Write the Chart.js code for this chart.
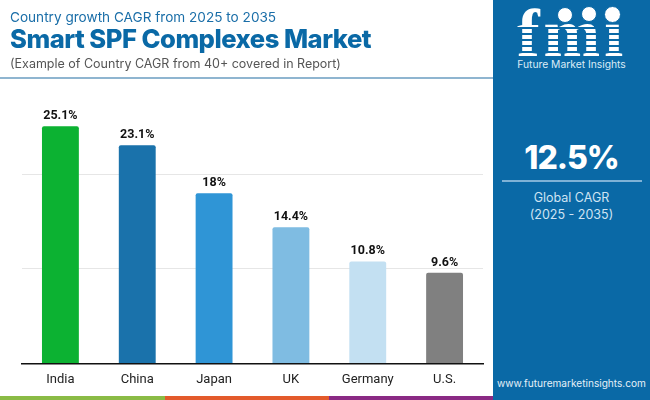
<!DOCTYPE html>
<html><head><meta charset="utf-8">
<script src="https://cdn.jsdelivr.net/npm/chart.js@4"></script>
<style>
html,body{margin:0;padding:0;background:#fff;overflow:hidden}
#w{position:relative;width:650px;height:400px;overflow:hidden;font-family:Inter,sans-serif}
#w div{position:absolute;white-space:nowrap}
canvas{position:absolute;left:0;top:0}
.c{text-align:center}
</style></head><body><div id="w">
<canvas id="c" width="650" height="400"></canvas>
<div style="left:10px;top:9px;font-size:13.6px;color:#1a6ea8">Country growth CAGR from 2025 to 2035</div>
<div style="left:10px;top:23px;font-size:25.6px;font-weight:800;color:#0a69a6;letter-spacing:-.5px">Smart SPF Complexes Market</div>
<div style="left:10px;top:56px;font-size:12.5px;color:#555">(Example of Country CAGR from 40+ covered in Report)</div>
<div style="left:0;top:77px;width:493px;height:2px;background:#8fb5d0"></div>
<div style="left:493px;top:0;width:157px;height:400px;background:#0a69a6"></div>
<div id="logo" class="c" style="left:516px;top:-1px;width:112px;height:68px;font-family:'Liberation Serif',serif;font-weight:700;font-size:68px;line-height:68px;color:#fff;letter-spacing:4px">fmi</div>
<div style="left:516px;top:27px;width:112px;height:1.5px;background:#0a69a6"></div>
<div style="left:516px;top:33px;width:112px;height:1.5px;background:#0a69a6"></div>
<div style="left:516px;top:39px;width:112px;height:1.5px;background:#0a69a6"></div>
<div style="left:516px;top:45px;width:112px;height:1.5px;background:#0a69a6"></div>
<div style="left:516px;top:51px;width:112px;height:1.5px;background:#0a69a6"></div>
<div style="left:557px;top:7px;width:14px;height:14px;border-radius:50%;background:#fff;border:1px solid #0a69a6"></div>
<div style="left:581px;top:6px;width:14px;height:14px;border-radius:50%;background:#fff;border:1px solid #0a69a6"></div>
<div style="left:604px;top:6px;width:15px;height:15px;border-radius:50%;background:#fff;border:1px solid #0a69a6"></div>
<div class="c" style="left:493px;top:58px;width:157px;font-size:10.3px;color:#dcecf7">Future Market Insights</div>
<div class="c" style="left:493px;top:138px;width:157px;font-size:32px;font-weight:800;letter-spacing:-1px;color:#fff">12.5%</div>
<div style="left:502px;top:180px;width:140px;height:2px;background:#7fb2d6"></div>
<div class="c" style="left:493px;top:190px;width:157px;font-size:12.5px;color:#cfe4f3">Global CAGR</div>
<div class="c" style="left:493px;top:207px;width:157px;font-size:12.5px;color:#cfe4f3">(2025 - 2035)</div>
<div class="c" style="left:493px;top:377px;width:157px;font-size:10.1px;color:#e4f0f8">www.futuremarketinsights.com</div>
<div style="left:0;top:396px;width:165px;height:4px;background:#8abb45"></div>
<div style="left:165px;top:396px;width:164px;height:4px;background:#e35a2b"></div>
<div style="left:329px;top:396px;width:164px;height:4px;background:#8a2a84"></div>
</div>
<script>
const categories=["India","China","Japan","UK","Germany","U.S."];
const cagrValues=[25.1,23.1,18,14.4,10.8,9.6];
const barColors=["#0cb232","#1a72ab","#2f95d6","#7fbce2","#c3e0f2","#808080"];
const valueLabels=["25.1%","23.1%","18%","14.4%","10.8%","9.6%"];
const yTicks=[0,10,20];
Chart.defaults.animation=false;
const labelPlugin={id:"valueLabels",afterDatasetsDraw(ch){
  const m=ch.getDatasetMeta(0),x=ch.ctx;
  x.save();x.font="700 12.5px Roboto";x.fillStyle="#111";x.textAlign="center";x.textBaseline="bottom";
  m.data.forEach((b,i)=>x.fillText(valueLabels[i],b.x,b.y-4));
  x.restore();
}};
new Chart(document.getElementById("c"),{type:"bar",
 data:{labels:categories,datasets:[{data:cagrValues,backgroundColor:barColors,borderRadius:{topLeft:2,topRight:2},borderSkipped:"bottom",barPercentage:.48,categoryPercentage:1}]},
 plugins:[labelPlugin],
 options:{responsive:false,maintainAspectRatio:false,animation:false,
  layout:{padding:{left:22,right:167,top:80,bottom:11}},
  plugins:{legend:{display:false},tooltip:{enabled:false}},
  scales:{
   x:{grid:{display:false},border:{color:"#111",width:1.5},ticks:{color:"#222",font:{family:"Roboto",size:13},padding:1,maxRotation:0}},
   y:{min:0,max:30,afterBuildTicks(a){a.ticks=yTicks.map(v=>({value:v}))},afterFit(a){a.width=0},grid:{color:"#e6e6e6",lineWidth:1,drawTicks:false},border:{display:false},ticks:{display:false}}
  }}});
</script></body></html>
